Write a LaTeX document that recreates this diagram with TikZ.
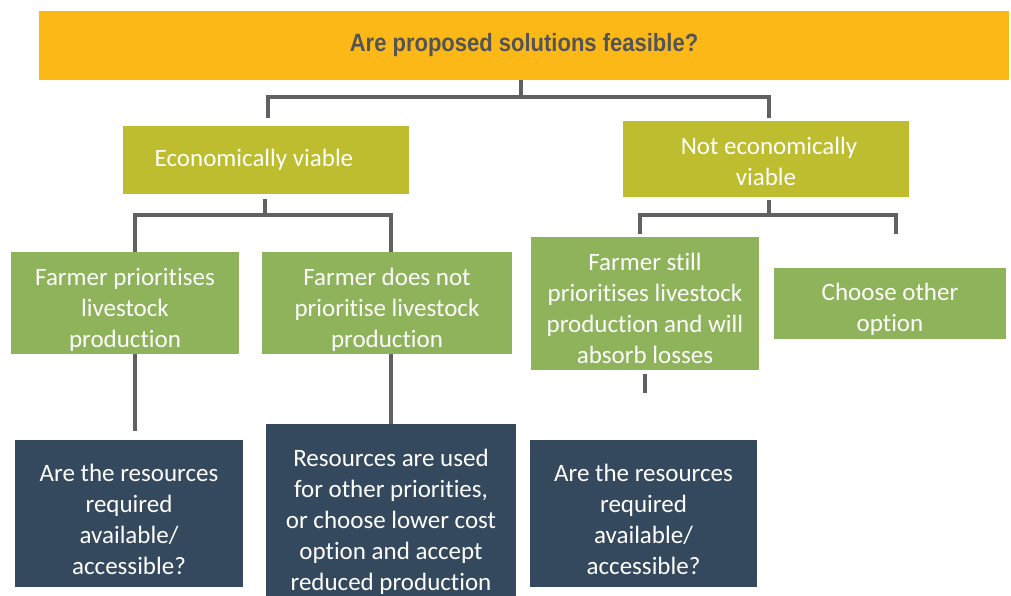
\documentclass[tikz,border=0pt]{standalone}
\usepackage{fontspec}
\setmainfont{Carlito}[Ligatures={NoCommon}]
\newfontfamily\titlefont[FakeStretch=0.88]{Liberation Sans}
\usetikzlibrary{positioning}
\definecolor{barY}{HTML}{FCB817}
\definecolor{olive}{HTML}{BDBD2F}
\definecolor{leaf}{HTML}{8FB35A}
\definecolor{navy}{HTML}{35495E}
\definecolor{wire}{HTML}{616161}
\definecolor{titlegrey}{HTML}{545454}
\newcommand\topstrut[1]{\rule{0pt}{#1pt}}
\tikzset{
  box/.style={rectangle, inner sep=0pt, align=center, text=white,
    font=\fontsize{25}{31}\selectfont},
  lvl1/.style={box, fill=olive},
  lvl2/.style={box, fill=leaf},
  lvl3/.style={box, fill=navy},
  conn/.style={draw=wire, line width=4.6pt, line join=miter}
}
\begin{document}
\begin{tikzpicture}[x=1pt,y=-1pt]
\useasboundingbox (0,0) rectangle (1011,596);
% top bar
\node[rectangle, fill=barY, minimum width=970pt, minimum height=69pt, inner sep=0pt,
      font=\titlefont\bfseries\fontsize{25}{30}\selectfont, text=titlegrey]
  (top) at (524,45.5) {Are proposed solutions feasible?};
% level 1
\node[lvl1, minimum width=286pt, minimum height=68pt] (econ) at (266,160) {Economically viable\hspace*{24pt}};
\node[lvl1, minimum width=286pt, minimum height=76pt] (notecon) at (766,159) {\topstrut{22.5}\hspace*{6pt}Not economically\\viable};
% level 2
\node[lvl2, minimum width=228pt, minimum height=102pt] (fp) at (125,303) {\topstrut{30.5}Farmer prioritises\\livestock\\production};
\node[lvl2, minimum width=250pt, minimum height=102pt] (fdn) at (387,303) {\topstrut{30.5}Farmer does not\\prioritise livestock\\production};
\node[lvl2, minimum width=228pt, minimum height=133pt] (fs) at (645,303.5) {\topstrut{27.5}Farmer still\\prioritises livestock\\production and will\\absorb losses};
\node[lvl2, minimum width=232pt, minimum height=71pt] (co) at (890,303.5) {\topstrut{29.5}Choose other\\option};
% level 3
\node[lvl3, minimum width=228pt, minimum height=147pt] (d1) at (129,513.5) {\topstrut{29.5}Are the resources\\required\\available/\\accessible?};
\node[lvl3, minimum width=250pt, minimum height=172pt] (d2) at (391,510) {\topstrut{41.5}Resources are used\\for other priorities,\\or choose lower cost\\option and accept\\reduced production};
\node[lvl3, minimum width=227pt, minimum height=147pt] (d3) at (643.5,513.5) {\topstrut{29.5}Are the resources\\required\\available/\\accessible?};
% connectors: top -> level 1
\coordinate (j1) at (521,97);
\draw[conn] (top.south -| j1) -- (j1);
\draw[conn] ([xshift=2pt,yshift=8pt]econ.north) |- (j1) -| ([xshift=3pt,yshift=3pt]notecon.north);
% economically viable -> level 2
\coordinate (j2) at (265,215);
\draw[conn] ([yshift=-5pt]econ.south -| j2) -- (j2);
\draw[conn] (fp.north -| 135,0) |- (j2) -| (fdn.north -| 391,0);
% not economically viable -> level 2
\coordinate (j3) at (769,215);
\draw[conn] ([yshift=-3pt]notecon.south -| j3) -- (j3);
\draw[conn] ([yshift=3pt]fs.north -| 640,0) |- (j3) -| (896,234);
% level 2 -> level 3
\coordinate (fpend) at (135,431);
\draw[conn] (fp.south -| fpend) -- (fpend);
\draw[conn] (fdn.south -| 391,0) -- (d2.north -| 391,0);
\coordinate (fsend) at (645,393);
\draw[conn] ([yshift=-4pt]fs.south -| fsend) -- (fsend);
\end{tikzpicture}
\end{document}
